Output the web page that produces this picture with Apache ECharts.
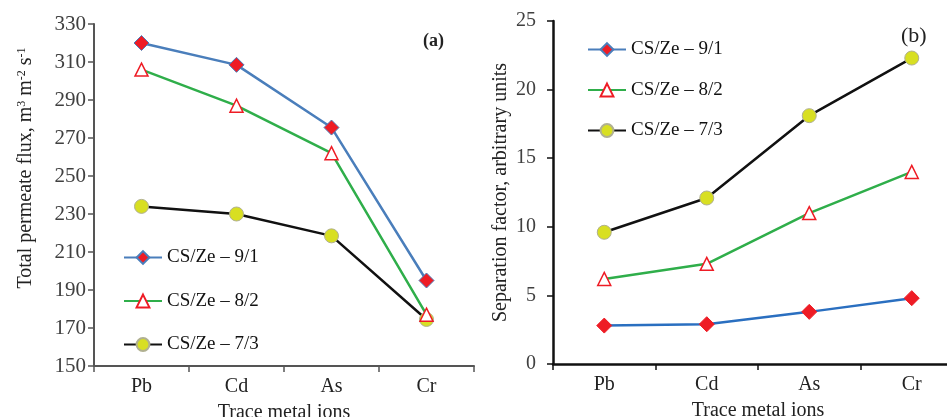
<!DOCTYPE html>
<html><head><meta charset="utf-8">
<script src="https://cdn.jsdelivr.net/npm/echarts@6/dist/echarts.min.js"></script>
<style>html,body{margin:0;padding:0;background:#fff}#c{width:947px;height:417px}</style>
</head><body><div id="c"></div>
<script>
const categories = ['Pb', 'Cd', 'As', 'Cr'];
const seriesNames = ['CS/Ze \u2013 9/1', 'CS/Ze \u2013 8/2', 'CS/Ze \u2013 7/3'];
const flux91 = [320, 308.5, 275.5, 195];
const flux82 = [306, 287, 262, 177];
const flux73 = [234, 230, 218.5, 174.5];
const sep91 = [2.8, 2.9, 3.8, 4.8];
const sep82 = [6.2, 7.3, 11.0, 14.0];
const sep73 = [9.6, 12.1, 18.1, 22.3];
const fluxTicks = [150, 330, 20];
const sepTicks = [0, 25, 5];

const FONT = 'Liberation Serif';
const AX = '#404040';
const styles = [
  {line: '#4a7ebb', symbol: 'diamond', size: 15, fill: '#ee1c25', border: '#4a7ebb', bw: 1},
  {line: '#2fae4a', symbol: 'triangle', size: 13, fill: '#ffffff', border: '#ee1c25', bw: 1.5},
  {line: '#111111', symbol: 'circle', size: 14, fill: '#d8df22', border: '#b0b090', bw: 1}
];
function mk(name, data, i, gi) {
  const s = styles[i];
  return {
    name: name, type: 'line', xAxisIndex: gi, yAxisIndex: gi, data: data,
    symbol: s.symbol, symbolSize: s.size,
    lineStyle: {color: (gi && i === 0) ? '#2a6fc0' : s.line, width: 2.5},
    itemStyle: {color: s.fill, borderColor: (gi && i === 0) ? s.fill : s.border, borderWidth: s.bw},
    z: 5 - i, animation: false
  };
}
function xAx(gi) {
  return {
    type: 'category', gridIndex: gi, data: categories,
    name: 'Trace metal ions', nameLocation: 'middle', nameGap: 37,
    nameTextStyle: {fontFamily: FONT, fontSize: 20, color: '#222'},
    axisLine: {lineStyle: {color: gi ? '#111' : '#555', width: gi ? 2.5 : 2}},
    axisTick: {show: true, length: 6, lineStyle: {color: gi ? '#111' : '#555', width: 1.5}},
    axisLabel: {fontFamily: FONT, fontSize: 20, color: '#222', margin: 11},
    splitLine: {show: false}
  };
}
function yAx(gi, t, nameObj) {
  return Object.assign({
    type: 'value', gridIndex: gi, min: t[0], max: t[1], interval: t[2],
    nameLocation: 'middle', nameRotate: 90,
    axisLine: {show: true, lineStyle: {color: gi ? '#111' : '#555', width: gi ? 2.5 : 2}},
    axisTick: {show: true, length: 6, lineStyle: {color: gi ? '#111' : '#555', width: 1.5}},
    axisLabel: {fontFamily: FONT, fontSize: gi ? 20 : 21, color: AX, margin: gi ? 17 : 8},
    splitLine: {show: false}
  }, nameObj);
}
const chart = echarts.init(document.getElementById('c'), null, {renderer: 'canvas'});
chart.setOption({
  animation: false,
  backgroundColor: '#fff',
  grid: [
    {left: 94, top: 24, width: 380, height: 342, outerBoundsMode: 'none', containLabel: false},
    {left: 553, top: 21, width: 410, height: 343, outerBoundsMode: 'none', containLabel: false}
  ],
  xAxis: [xAx(0), xAx(1)],
  yAxis: [
    yAx(0, fluxTicks, {
      name: '{n|Total permeate flux, m}{s|3}{n| m}{s|-2}{n| s}{s|-1}', nameGap: 58,
      nameTextStyle: {padding: [0, 0, 0, 54], rich: {
        n: {fontFamily: FONT, fontSize: 20, color: '#222', verticalAlign: 'bottom'},
        s: {fontFamily: FONT, fontSize: 12, color: '#222', verticalAlign: 'top'}
      }}
    }),
    yAx(1, sepTicks, {
      name: 'Separation factor, arbitrary units', nameGap: 42,
      nameTextStyle: {fontFamily: FONT, fontSize: 20, color: '#222'}
    })
  ],
  legend: [
    {data: seriesNames, orient: 'vertical', left: 118, top: 243, itemWidth: 38, itemHeight: 16, itemGap: 24.5,
     textStyle: {fontFamily: FONT, fontSize: 19, color: '#111'}, selectedMode: false},
    {data: seriesNames, orient: 'vertical', left: 582, top: 35, itemWidth: 38, itemHeight: 16, itemGap: 21.5,
     textStyle: {fontFamily: FONT, fontSize: 19, color: '#111'}, selectedMode: false}
  ],
  graphic: [
    {type: 'text', left: 423, top: 32, style: {text: '(a)', font: 'bold 18px "Liberation Serif"', fill: '#222'}},
    {type: 'text', left: 901, top: 25, style: {text: '(b)', font: '22px "Liberation Serif"', fill: '#222'}}
  ],
  series: [
    mk(seriesNames[0], flux91, 0, 0),
    mk(seriesNames[1], flux82, 1, 0),
    mk(seriesNames[2], flux73, 2, 0),
    mk(seriesNames[0], sep91, 0, 1),
    mk(seriesNames[1], sep82, 1, 1),
    mk(seriesNames[2], sep73, 2, 1)
  ]
});
</script></body></html>
